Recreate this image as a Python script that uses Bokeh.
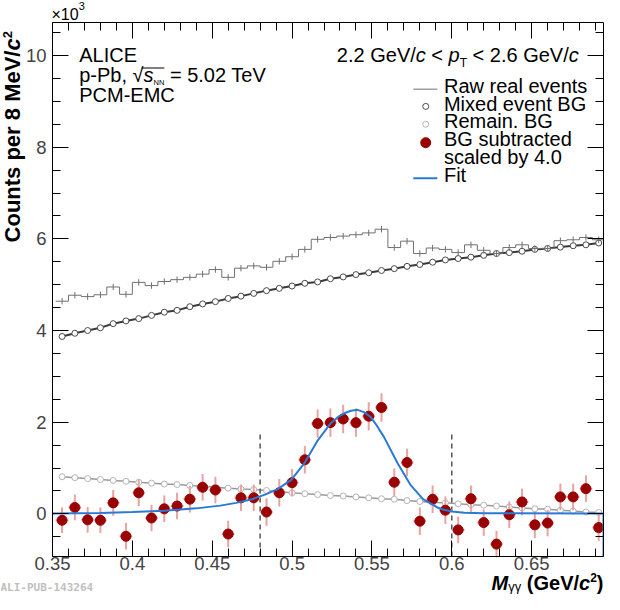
from math import cos, pi, sin

from bokeh.embed import file_html
from bokeh.models import (BoxAnnotation, Label, LinearAxis,
                          NumeralTickFormatter, SingleIntervalTicker)
from bokeh.plotting import figure
from bokeh.resources import INLINE

# bin centres of the 8 MeV invariant mass bins (GeV/c^2)
mass = [0.356, 0.364, 0.372, 0.380, 0.388, 0.396, 0.404, 0.412, 0.420,
        0.428, 0.436, 0.444, 0.452, 0.460, 0.468, 0.476, 0.484, 0.492,
        0.500, 0.508, 0.516, 0.524, 0.532, 0.540, 0.548, 0.556, 0.564,
        0.572, 0.580, 0.588, 0.596, 0.604, 0.612, 0.620, 0.628, 0.636,
        0.644, 0.652, 0.660, 0.668, 0.676, 0.684, 0.692]

# counts in units of 10^3
raw_real = [4.64, 4.77, 4.74, 4.78, 4.95, 4.79, 5.05, 4.98, 5.07, 5.11,
            5.16, 5.23, 5.33, 5.16, 5.36, 5.41, 5.38, 5.51, 5.61, 5.77,
            5.99, 6.03, 6.06, 6.09, 6.13, 6.21, 5.81, 5.95, 5.68, 5.80,
            5.77, 5.70, 5.87, 5.75, 5.68, 5.81, 5.87, 5.79, 5.79, 5.96,
            5.98, 6.03, 5.98]
raw_err = 0.07

mixed_bg = [3.87, 3.94, 4.00, 4.06, 4.15, 4.21, 4.26, 4.33, 4.40, 4.44,
            4.52, 4.58, 4.63, 4.70, 4.75, 4.81, 4.87, 4.92, 4.97, 5.03,
            5.06, 5.13, 5.17, 5.22, 5.26, 5.31, 5.35, 5.40, 5.44, 5.49,
            5.54, 5.57, 5.60, 5.64, 5.68, 5.70, 5.73, 5.77, 5.79, 5.82,
            5.85, 5.87, 5.91]

remain_bg = [0.81, 0.79, 0.77, 0.75, 0.73, 0.71, 0.69, 0.67, 0.65, 0.64,
             0.62, 0.60, 0.58, 0.56, 0.54, 0.53, 0.51, 0.48, 0.46, 0.44,
             0.42, 0.40, 0.39, 0.37, 0.35, 0.33, 0.32, 0.29, 0.27, 0.25,
             0.24, 0.22, 0.20, 0.19, 0.17, 0.15, 0.13, 0.11, 0.10, 0.08,
             0.06, 0.04, 0.03]

subtracted = [-0.14, 0.14, -0.13, -0.14, 0.24, -0.49, 0.46, -0.09, 0.11,
              0.17, 0.32, 0.58, 0.52, -0.44, 0.35, 0.35, 0.04, 0.46, 0.68,
              1.18, 1.97, 1.99, 2.07, 1.99, 2.13, 2.32, 0.69, 1.12, -0.16,
              0.32, 0.08, -0.35, 0.33, -0.19, -0.66, -0.02, 0.26, -0.24,
              -0.20, 0.37, 0.37, 0.55, -0.30]
subtracted_err = [0.28, 0.28, 0.28, 0.28, 0.28, 0.29, 0.29, 0.29, 0.29,
                  0.29, 0.29, 0.29, 0.29, 0.29, 0.29, 0.29, 0.30, 0.30,
                  0.30, 0.30, 0.31, 0.31, 0.31, 0.31, 0.31, 0.31, 0.30,
                  0.30, 0.30, 0.30, 0.30, 0.29, 0.29, 0.29, 0.29, 0.29,
                  0.29, 0.29, 0.29, 0.29, 0.29, 0.29, 0.29]

fit_mass = [0.350, 0.380, 0.400, 0.420, 0.440, 0.455, 0.465, 0.475, 0.483,
            0.491, 0.4995, 0.508, 0.516, 0.524, 0.529, 0.533, 0.537, 0.541,
            0.545, 0.549, 0.553, 0.5575, 0.566, 0.574, 0.582, 0.591, 0.595,
            0.600, 0.608, 0.620, 0.695, 0.695]
fit_counts = [0.01, 0.02, 0.04, 0.07, 0.12, 0.18, 0.24, 0.32, 0.42,
              0.54, 0.74, 1.12, 1.60, 1.97, 2.12, 2.20, 2.25, 2.27,
              2.22, 2.12, 1.93, 1.68, 1.11, 0.64, 0.32, 0.14, 0.09,
              0.05, 0.025, 0.012, 0.01, -0.93]

window = [0.48, 0.60]
window_top = 1.8

X_START, X_END = 0.35, 0.695
Y_START, Y_END = -0.93, 10.72

W, H = 604, 594
# pixel box of the axes frame: left, right, top, bottom
BOX_L, BOX_R, BOX_T, BOX_B = 52, 603, 22, 556
KX = (BOX_R - BOX_L) / (X_END - X_START)
KY = (BOX_B - BOX_T) / (Y_END - Y_START)

FONT = "Liberation Sans"
NB = "\u00a0"

REG = {' ': 278, NB: 278, '.': 278, ',': 278, '-': 333, '/': 278,
       '<': 584, '=': 584, '(': 333, ')': 333, '×': 584, '√': 549,
       'γ': 500, 'A': 667, 'B': 667, 'C': 722, 'E': 667, 'G': 778,
       'I': 278, 'L': 556, 'M': 833, 'N': 722, 'P': 667, 'T': 611,
       'V': 667, 'b': 556, 'c': 500, 'p': 556, 's': 500}
BOLD = {' ': 278, NB: 278, '(': 333, ')': 333, '/': 278, 'G': 778,
        'M': 833, 'V': 667, 'c': 556, 'e': 556, 'C': 722, 'o': 611,
        'u': 611, 'n': 611, 't': 333, 's': 556, 'p': 611, 'r': 389}


def rx(px):
    # reference picture x (frame 56..613) -> canvas x
    return BOX_L + (px - 56) * (BOX_R - BOX_L) / 557


def ry(py):
    # reference picture y (frame 22..561) -> canvas y
    return BOX_T + (py - 22) * (BOX_B - BOX_T) / 539


def to_data(cx, cy):
    return X_START + (cx - BOX_L) / KX, Y_END - (cy - BOX_T) / KY


def text_width(text, size, style):
    table = BOLD if "bold" in style else REG
    return sum(table.get(ch, 556) for ch in text) * size / 1000


def put(p, text, cx, cy, size, style="normal", color="black",
        align="left", angle=0.0, font=FONT):
    # (cx, cy) is the baseline point; labels are anchored at their middle
    lift = 0.35 * size
    ax = cx - lift * sin(angle)
    ay = cy - lift * cos(angle)
    p.add_layout(Label(x=ax, y=H - ay, x_units="screen", y_units="screen",
                       text=text, text_font=font,
                       text_font_size=f"{size}px", text_font_style=style,
                       text_color=color, text_align=align,
                       text_baseline="middle", angle=angle))


def put_run(p, pieces, cx, cy, align="left"):
    widths = [text_width(t, s, st) for t, s, st, dy in pieces]
    x = cx - sum(widths) if align == "right" else cx
    for (t, s, st, dy), w in zip(pieces, widths):
        put(p, t, x, cy + dy, s, st)
        x += w
    return x


def make_axis(ticker, location, bounds, labels=True):
    axis = LinearAxis(ticker=ticker, fixed_location=location, bounds=bounds)
    axis.axis_line_color = "black"
    axis.major_tick_in = 16
    axis.major_tick_out = 0
    axis.minor_tick_in = 8
    axis.minor_tick_out = 0
    axis.major_label_text_font = FONT
    axis.major_label_text_font_size = "18.5px"
    if not labels:
        axis.major_label_text_color = None
    return axis


def plot() -> None:
    x_range = (X_START - BOX_L / KX, X_END + (W - BOX_R) / KX)
    y_range = (Y_START - (H - BOX_B) / KY, Y_END + BOX_T / KY)
    p = figure(width=W, height=H, x_range=x_range, y_range=y_range,
               x_axis_location=None, y_axis_location=None,
               output_backend="svg", toolbar_location=None,
               min_border=0, min_border_left=0, min_border_right=0,
               min_border_top=0, min_border_bottom=0)
    p.grid.visible = False
    p.outline_line_color = None

    x_ticker = SingleIntervalTicker(interval=0.05, num_minor_ticks=5)
    y_ticker = SingleIntervalTicker(interval=2, num_minor_ticks=4)

    bottom_axis = make_axis(x_ticker, Y_START, (X_START, X_END))
    bottom_axis.formatter = NumeralTickFormatter(format="0.[00]")
    bottom_axis.major_label_standoff = 0
    left_axis = make_axis(y_ticker, X_START, (Y_START, Y_END))
    left_axis.major_label_standoff = 6
    top_axis = make_axis(x_ticker, Y_END, (X_START, X_END), labels=False)
    right_axis = make_axis(y_ticker, X_END, (Y_START, Y_END), labels=False)
    p.add_layout(bottom_axis, "below")
    p.add_layout(left_axis, "left")
    p.add_layout(top_axis, "above")
    p.add_layout(right_axis, "right")

    bin_width = mass[1] - mass[0]
    edges = [m - bin_width / 2 for m in mass] + [mass[-1] + bin_width / 2]

    # remaining background
    p.line(mass, remain_bg, line_color="#9a9a9a", line_width=1.5)
    p.scatter(mass, remain_bg, size=6, fill_color="white",
              line_color="#b5b5b5")

    # mixed event background
    p.line(mass, mixed_bg, line_color="#3a3a3a", line_width=2)
    p.scatter(mass, mixed_bg, size=6, fill_color="white",
              line_color="#4a4a4a")

    # raw real events
    p.step(edges, raw_real + [raw_real[-1]], mode="after",
           line_color="#707070", line_width=1)
    p.segment(mass, [r - raw_err for r in raw_real],
              mass, [r + raw_err for r in raw_real],
              line_color="#707070", line_width=1)

    # integration window
    p.segment(window, [Y_START] * len(window), window,
              [window_top] * len(window),
              line_color="#555555", line_width=1.5, line_dash="5 4")

    # background subtracted signal
    p.segment(mass, [s - e for s, e in zip(subtracted, subtracted_err)],
              mass, [s + e for s, e in zip(subtracted, subtracted_err)],
              line_color="#e8a3a3", line_width=2)
    p.segment([m - bin_width / 2 for m in mass], subtracted,
              [m + bin_width / 2 for m in mass], subtracted,
              line_color="#e8a3a3", line_width=2)
    p.scatter(mass, subtracted, size=10, color="#990000")

    p.line(fit_mass, fit_counts, line_color="#2a7ad5", line_width=2)

    # legend keys and entries, ROOT style
    key_l, key_r, key_c = rx(420.7), rx(445), rx(433.3)
    lx0, ly_raw = to_data(key_l, ry(89.3))
    lx1, _ = to_data(key_r, ry(89.3))
    lxc, ly_mix = to_data(key_c, ry(106.7))
    _, ly_rem = to_data(key_c, ry(124.7))
    _, ly_sub = to_data(key_c, ry(143.3))
    _, ly_fit = to_data(key_l, ry(179.3))
    p.line([lx0, lx1], [ly_raw, ly_raw], line_color="#707070", line_width=1)
    p.scatter([lxc], [ly_mix], size=6, fill_color="white",
              line_color="#4a4a4a")
    p.scatter([lxc], [ly_rem], size=6, fill_color="white",
              line_color="#b5b5b5")
    p.scatter([lxc], [ly_sub], size=10, color="#990000")
    p.line([lx0, lx1], [ly_fit, ly_fit], line_color="#2a7ad5", line_width=2)

    entries = [("Raw real events", 93.3), ("Mixed event BG", 111),
               ("Remain. BG", 128.3), ("BG subtracted", 146.7),
               ("scaled by 4.0", 165), ("Fit", 183.3)]
    for text, base in entries:
        put(p, text, rx(451.7), ry(base), 20)

    # texts
    put(p, "ALICE", rx(83), ry(62), 20)
    x0 = rx(83)
    root_end = x0 + text_width("p-Pb," + NB + "√", 20, "normal")
    put_run(p, [("p-Pb," + NB + "√", 20, "normal", 0),
                ("s", 20, "italic", 0), ("NN", 7.5, "normal", 3),
                (NB + "= 5.02 TeV", 20, "normal", 0)], x0, ry(82.5))
    bar_end = root_end + text_width("s", 20, "italic") + \
        text_width("NN", 7.5, "normal")
    p.add_layout(BoxAnnotation(left=root_end - 2, right=bar_end,
                               bottom=H - 68, top=H - 67,
                               left_units="screen", right_units="screen",
                               bottom_units="screen", top_units="screen",
                               fill_color="black", fill_alpha=1,
                               line_alpha=0))
    put(p, "PCM-EMC", rx(83), ry(102), 20)

    put_run(p, [("2.2 GeV/", 20, "normal", 0), ("c", 20, "italic", 0),
                (NB + "<" + NB, 20, "normal", 0), ("p", 20, "italic", 0),
                ("T", 12, "normal", 5),
                (NB + "< 2.6 GeV/", 20, "normal", 0),
                ("c", 20, "italic", 0)], rx(588), ry(61.7), align="right")

    put_run(p, [("×10", 16, "normal", 0), ("3", 11, "normal", -11)],
            rx(55), 20)

    # axis titles
    y_main = "Counts per 8 MeV/"
    y_start = ry(244)
    y_c = y_start - text_width(y_main, 22, "bold")
    y_sup = y_c - text_width("c", 22, "bold")
    put(p, y_main, rx(23), y_start, 22, "bold", angle=pi / 2)
    put(p, "c", rx(23), y_c, 22, "bold italic", angle=pi / 2)
    put(p, "2", rx(15), y_sup, 13, "bold", angle=pi / 2)

    put_run(p, [("M", 20, "bold italic", 0), ("γγ", 13, "normal", 1.5),
                (NB + "(GeV/", 20, "bold", 0), ("c", 20, "bold italic", 0),
                ("2", 12, "bold", -8), (")", 20, "bold", 0)],
            603, 589, align="right")

    put(p, "ALI-PUB-143264", 0, 591, 11, "bold", color="#bfbfbf",
        font="DejaVu Sans Mono")

    open("out.html", "w").write(file_html(p, INLINE))


plot()
